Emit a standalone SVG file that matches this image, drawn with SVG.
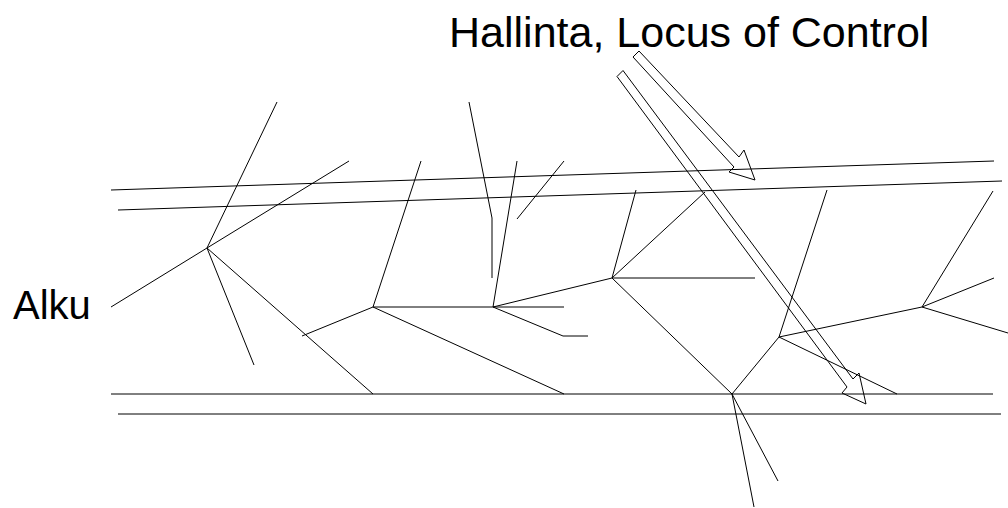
<svg xmlns="http://www.w3.org/2000/svg" width="1008" height="508" viewBox="0 0 1008 508">
<style>
.l{stroke:#000;stroke-width:1;fill:none}
.t{font-family:"Liberation Sans",Arial,sans-serif;fill:#000}
</style>
<rect width="1008" height="508" fill="#fff"/>
<g id="labels">
<text class="t" x="449" y="47" font-size="43">Hallinta, Locus of Control</text>
<text class="t" x="13" y="319" font-size="40">Alku</text>
</g>
<g id="bands" class="l">
<line x1="111" y1="190" x2="994" y2="161"/>
<line x1="118" y1="210" x2="1002" y2="181"/>
<line x1="111" y1="394" x2="993" y2="394"/>
<line x1="118" y1="414" x2="1001" y2="414"/>
</g>
<g id="connectors" class="l">
<line x1="111" y1="307" x2="207" y2="248"/>
<line x1="207" y1="248" x2="277" y2="102"/>
<line x1="207" y1="248" x2="349" y2="161"/>
<line x1="207" y1="248" x2="254" y2="365"/>
<line x1="207" y1="248" x2="373" y2="394"/>
<line x1="302" y1="336" x2="373" y2="307"/>
<line x1="373" y1="307" x2="421" y2="161"/>
<line x1="373" y1="307" x2="564" y2="307"/>
<line x1="373" y1="307" x2="564" y2="394"/>
<polyline points="493,307 563,336 588,336"/>
<line x1="493" y1="307" x2="517" y2="161"/>
<polyline points="469,102 492,218 492,278"/>
<line x1="564" y1="161" x2="517" y2="219"/>
<line x1="493" y1="307" x2="612" y2="278"/>
<line x1="612" y1="278" x2="755" y2="278"/>
<line x1="612" y1="278" x2="636" y2="190"/>
<line x1="612" y1="278" x2="705" y2="192"/>
<line x1="612" y1="278" x2="732" y2="394"/>
<line x1="732" y1="394" x2="779" y2="337"/>
<line x1="732" y1="394" x2="778" y2="481"/>
<line x1="732" y1="394" x2="754" y2="507"/>
<line x1="779" y1="337" x2="827" y2="190"/>
<line x1="779" y1="337" x2="922" y2="307"/>
<line x1="779" y1="337" x2="897" y2="394"/>
<line x1="922" y1="307" x2="993" y2="191"/>
<line x1="922" y1="307" x2="994" y2="278"/>
<line x1="922" y1="307" x2="1008" y2="333"/>
</g>
<g id="arrows" class="l">
<polygon id="arrow1" points="633,57 639,51 739,157 744,150 755,180 729,172 734,167"/>
<polygon id="arrow2" points="617,76.5 623,70.5 853,379 859,373 866,404 842,393 847,387"/>
</g>
</svg>
